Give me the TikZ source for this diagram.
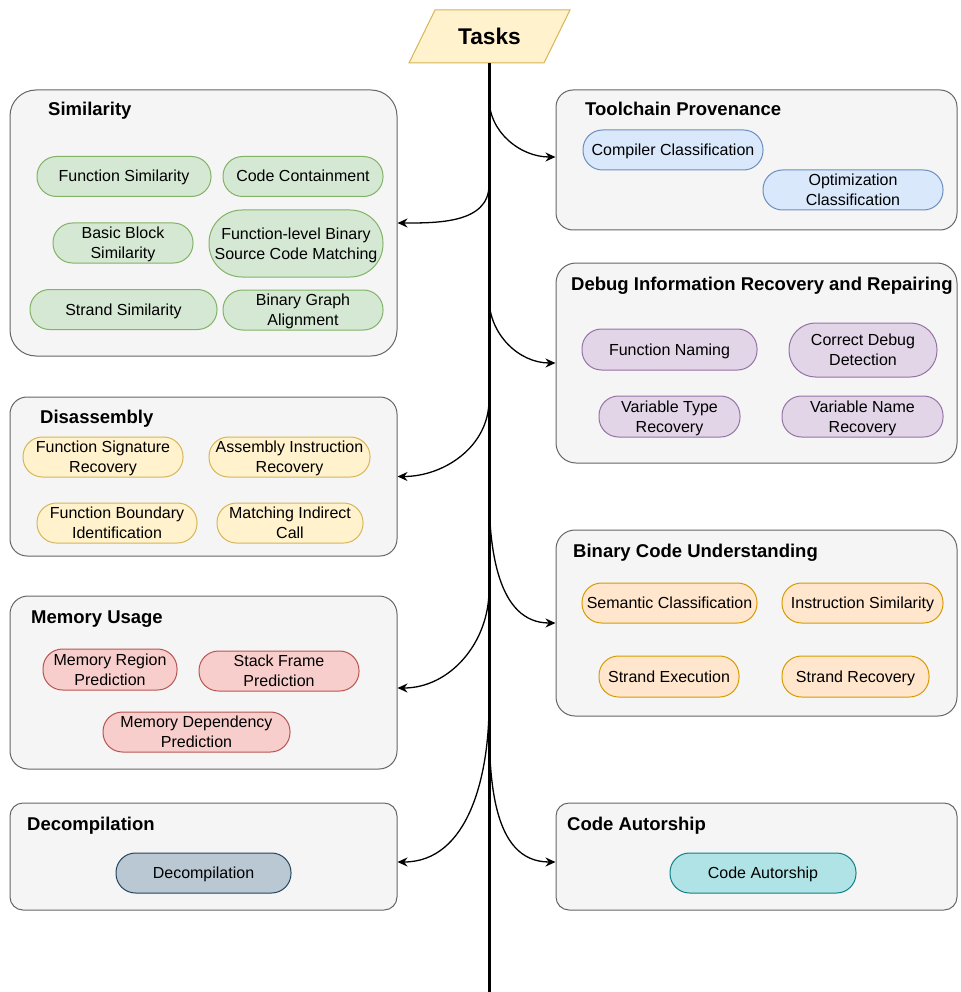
\documentclass[tikz,border=0pt]{standalone}
\usepackage{fontspec}
\setmainfont{Liberation Sans}
\usetikzlibrary{arrows.meta}

\definecolor{boxfill}{HTML}{F5F5F5}
\definecolor{boxline}{HTML}{666666}
\definecolor{gfill}{HTML}{D5E8D4}\definecolor{gline}{HTML}{82B366}
\definecolor{bfill}{HTML}{DAE8FC}\definecolor{bline}{HTML}{6C8EBF}
\definecolor{pfill}{HTML}{E1D5E7}\definecolor{pline}{HTML}{9673A6}
\definecolor{yfill}{HTML}{FFF2CC}\definecolor{yline}{HTML}{D6B656}
\definecolor{ofill}{HTML}{FFE6CC}\definecolor{oline}{HTML}{D79B00}
\definecolor{rfill}{HTML}{F8CECC}\definecolor{rline}{HTML}{B85450}
\definecolor{sfill}{HTML}{BAC8D3}\definecolor{sline}{HTML}{23445D}
\definecolor{tfill}{HTML}{B0E3E6}\definecolor{tline}{HTML}{0E8088}

\newcommand\pillfont{\fontsize{16}{19.8}\selectfont}
\newcommand\grouptitlefont{\fontsize{18.5}{22}\selectfont\bfseries}

\tikzset{
  group/.style={draw=boxline, fill=boxfill, line width=1pt, rounded corners=#1, inner sep=0pt},
  grouptitle/.style={anchor=base west, inner sep=0pt, font=\grouptitlefont},
  pill/.style={draw, line width=1pt, rounded corners=19.5pt, minimum height=40, inner sep=0pt,
               align=center, font=\pillfont, text height=13pt, text depth=2pt},
  twoline/.style={text height=33pt, text depth=2pt},
  gpill/.style={pill, fill=gfill, draw=gline},
  bpill/.style={pill, fill=bfill, draw=bline},
  ppill/.style={pill, fill=pfill, draw=pline},
  ypill/.style={pill, fill=yfill, draw=yline},
  opill/.style={pill, fill=ofill, draw=oline},
  rpill/.style={pill, fill=rfill, draw=rline},
  spill/.style={pill, fill=sfill, draw=sline},
  tpill/.style={pill, fill=tfill, draw=tline},
  conn/.style={-{Stealth[length=10pt,width=9pt]}, line width=1.3pt},
  spine/.style={line width=3pt, -{Stealth[length=12pt,width=10pt]}},
}

\begin{document}
\begin{tikzpicture}[x=1pt,y=-1pt]
\useasboundingbox (0,0) rectangle (960,992);

% root parallelogram
\draw[fill=yfill, draw=yline, line width=1pt] (435,10) -- (570,10) -- (544,63) -- (409,63) -- cycle;
\node[inner sep=0pt, font=\fontsize{22.7}{26}\selectfont\bfseries] (tasks) at (489.5,36.5) {Tasks};
\coordinate (taskbot) at (489,63);
\coordinate (spineend) at (489,1004);

% group containers
\node[group=26, minimum width=387, minimum height=266] (simil)  at (203.5,223) {};
\node[group=17, minimum width=401, minimum height=140] (tool)   at (756.5,160) {};
\node[group=20, minimum width=401, minimum height=200] (debug)  at (756.5,363) {};
\node[group=17, minimum width=387, minimum height=159] (disasm) at (203.5,476.5) {};
\node[group=19, minimum width=401, minimum height=186] (bcu)    at (756.5,623) {};
\node[group=18, minimum width=387, minimum height=173] (mem)    at (203.5,682.5) {};
\node[group=13, minimum width=387, minimum height=107] (decomp) at (203.5,856.5) {};
\node[group=13, minimum width=401, minimum height=107] (author) at (756.5,856.5) {};

% group titles (placed on their baselines)
\node[grouptitle] (similT)  at (48,116)  {Similarity};
\node[grouptitle] (toolT)   at (585,116) {Toolchain Provenance};
\node[grouptitle] (debugT)  at (571,290) {Debug Information Recovery and Repairing};
\node[grouptitle] (disasmT) at (40,423)  {Disassembly};
\node[grouptitle] (bcuT)    at (573,557) {Binary Code Understanding};
\node[grouptitle] (memT)    at (31,623)  {Memory Usage};
\node[grouptitle] (decompT) at (27,830)  {Decompilation};
\node[grouptitle] (authorT) at (567,830) {Code Autorship};

% similarity tasks
\node[gpill, minimum width=174] (s1) at (124,176.5)   {Function Similarity};
\node[gpill, minimum width=160] (s2) at (303,176.5)   {Code Containment};
\node[gpill, twoline, minimum width=140] (s3) at (123,243)   {Basic Block\\Similarity};
\node[gpill, twoline, minimum width=174, minimum height=67, rounded corners=33pt] (s4) at (296,243.5)
      {Function-level Binary\\Source Code Matching};
\node[gpill, minimum width=187] (s5) at (123.5,309.5) {Strand Similarity};
\node[gpill, twoline, minimum width=160] (s6) at (303,310)   {Binary Graph\\Alignment};

% toolchain provenance tasks
\node[bpill, minimum width=180] (t1) at (673,150) {Compiler Classification};
\node[bpill, twoline, minimum width=180] (t2) at (853,190) {Optimization\\Classification};

% debug information tasks
\node[ppill, minimum width=175, minimum height=41] (d1) at (669.5,349.5) {Function Naming};
\node[ppill, twoline, minimum width=148, minimum height=54, rounded corners=26.5pt] (d2) at (863,350)
      {Correct Debug\\Detection};
\node[ppill, twoline, minimum width=141, minimum height=41] (d3) at (669.5,416.5) {Variable Type\\Recovery};
\node[ppill, twoline, minimum width=161, minimum height=41] (d4) at (862.5,416.5) {Variable Name\\Recovery};

% disassembly tasks
\node[ypill, twoline, minimum width=160] (a1) at (103,457)   {Function Signature\\Recovery};
\node[ypill, twoline, minimum width=161] (a2) at (289.5,457) {Assembly Instruction\\Recovery};
\node[ypill, twoline, minimum width=160] (a3) at (117,523)   {Function Boundary\\Identification};
\node[ypill, twoline, minimum width=146] (a4) at (290,523)   {Matching Indirect\\Call};

% binary code understanding tasks
\node[opill, minimum width=175] (u1) at (669.5,603) {Semantic Classification};
\node[opill, minimum width=161] (u2) at (862.5,603) {Instruction Similarity};
\node[opill, minimum width=140, minimum height=41] (u3) at (669,676.5)   {Strand Execution};
\node[opill, minimum width=147, minimum height=41] (u4) at (855.5,676.5) {Strand Recovery};

% memory usage tasks
\node[rpill, twoline, minimum width=134, minimum height=41] (m1) at (110,669.5) {Memory Region\\Prediction};
\node[rpill, twoline, minimum width=160] (m2) at (279,671)   {Stack Frame\\Prediction};
\node[rpill, twoline, minimum width=187] (m3) at (196.5,732) {Memory Dependency\\Prediction};

% decompilation and authorship tasks
\node[spill, minimum width=175] (c1) at (203.5,873) {Decompilation};
\node[tpill, minimum width=186] (c2) at (763,873)   {Code Autorship};

% branch points on the spine
\coordinate (bTool)   at (489,98);
\coordinate (bSimil)  at (489,185);
\coordinate (bDebug)  at (489,298);
\coordinate (bDisasm) at (489,400);
\coordinate (bBcu)    at (489,490);
\coordinate (bMem)    at (489,590);
\coordinate (bDecomp) at (489,705);
\coordinate (bAuthor) at (489,710);

% spine
\draw[spine] (taskbot) -- (spineend);

% branches
\draw[conn] (bTool)   to[out=-90, in=180] ([yshift=3pt]tool.west);
\draw[conn] (bSimil)  to[out=-90, in=0]   (simil.east);
\draw[conn] (bDebug)  to[out=-90, in=180] (debug.west);
\draw[conn] (bDisasm) to[out=-90, in=0]   (disasm.east);
\draw[conn] (bBcu)    to[out=-90, in=180] (bcu.west);
\draw[conn] (bMem)    to[out=-90, in=0]   ([yshift=-5.5pt]mem.east);
\draw[conn] (bDecomp) to[out=-90, in=0]   ([yshift=-5.5pt]decomp.east);
\draw[conn] (bAuthor) to[out=-90, in=180] ([yshift=-5.5pt]author.west);
\end{tikzpicture}
\end{document}
